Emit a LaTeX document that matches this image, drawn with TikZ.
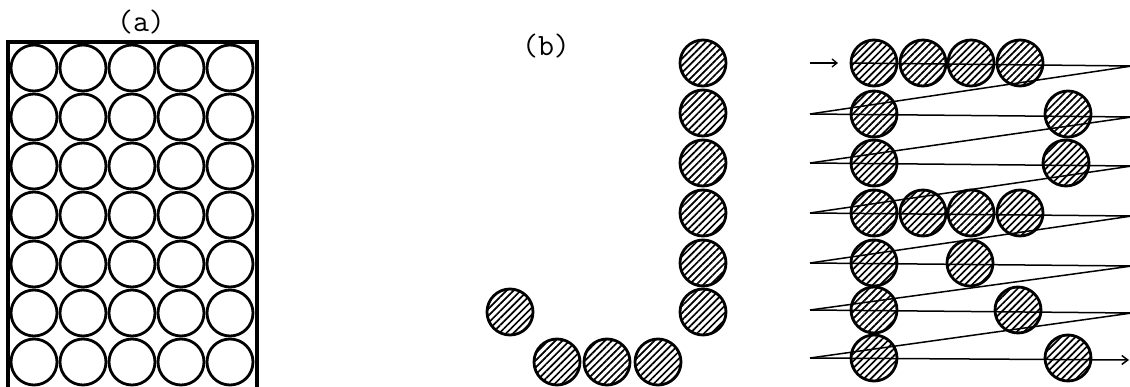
\documentclass[tikz,border=0pt]{standalone}
\usetikzlibrary{patterns.meta,arrows.meta}
\begin{document}
\begin{tikzpicture}[x=1pt,y=-1pt,
  open/.style={circle,draw,line width=2.8pt,minimum size=46pt,inner sep=0pt},
  hatched/.style={circle,draw,line width=2.8pt,minimum size=46pt,inner sep=0pt,
    pattern={Lines[angle=45,distance=5pt,line width=1.7pt]}},
  scan/.style={line width=1.5pt},
  lbl/.style={inner sep=0pt,font=\ttfamily\fontsize{31pt}{31pt}\selectfont}]
\useasboundingbox (0,0) rectangle (1130,387);
% (a)
\node[lbl] (la) at (141,22) {(a)};
\draw[line width=3.2pt] (8,390) -- (8,42) -- (257,42) -- (257,390);
\foreach \c/\x in {1/34,2/83,3/132,4/181,5/230}
  \foreach \r/\y in {1/68,2/117,3/166,4/215,5/264,6/313,7/362}
    \node[open] (a\r\c) at (\x,\y) {};
% (b)
\node[lbl] (lb) at (546,46) {(b)};
\foreach \r/\y in {1/63,2/113,3/163,4/213,5/263,6/312}
  \node[hatched] (bj\r) at (703,\y) {};
\node[hatched] (bh) at (510,312) {};
\foreach \c/\x in {1/557,2/607,3/658}
  \node[hatched] (bb\c) at (\x,362) {};
% (c) letter R on a scan raster
\foreach \c/\x in {1/874,2/923,3/971,4/1020}
  \node[hatched] (c1\c) at (\x,63) {};
\node[hatched] (c21) at (874,114) {};
\node[hatched] (c25) at (1068,114) {};
\node[hatched] (c31) at (874,163) {};
\node[hatched] (c35) at (1066,163) {};
\foreach \c/\x in {1/874,2/923,3/971,4/1020}
  \node[hatched] (c4\c) at (\x,213) {};
\node[hatched] (c51) at (874,263) {};
\node[hatched] (c53) at (970,263) {};
\node[hatched] (c61) at (874,310) {};
\node[hatched] (c64) at (1018,310) {};
\node[hatched] (c71) at (874,358) {};
\node[hatched] (c75) at (1068,358) {};
% scan coordinates
\coordinate (s0) at (810,63);
\coordinate (s1) at (838,63);
\draw[line width=1.3pt,-{Straight Barb[length=5pt,width=8pt]}] (s0) -- (s1);
\coordinate (L1) at (850,63);
\foreach \i/\y in {2/114,3/163,4/213,5/263,6/310,7/358}
  \coordinate (L\i) at (810,\y);
\foreach \i/\y in {1/63,2/114,3/163,4/213,5/263,6/310}
  \coordinate (R\i) at (1132,\y+3);
\coordinate (R7) at (1129,360);
\foreach \i [evaluate=\i as \n using int(\i+1)] in {1,...,6}
  \draw[scan] (L\i) -- (R\i) -- (L\n);
\draw[scan,-{Straight Barb[length=6pt,width=9pt]}] (L7) -- (R7);
\end{tikzpicture}
\end{document}
